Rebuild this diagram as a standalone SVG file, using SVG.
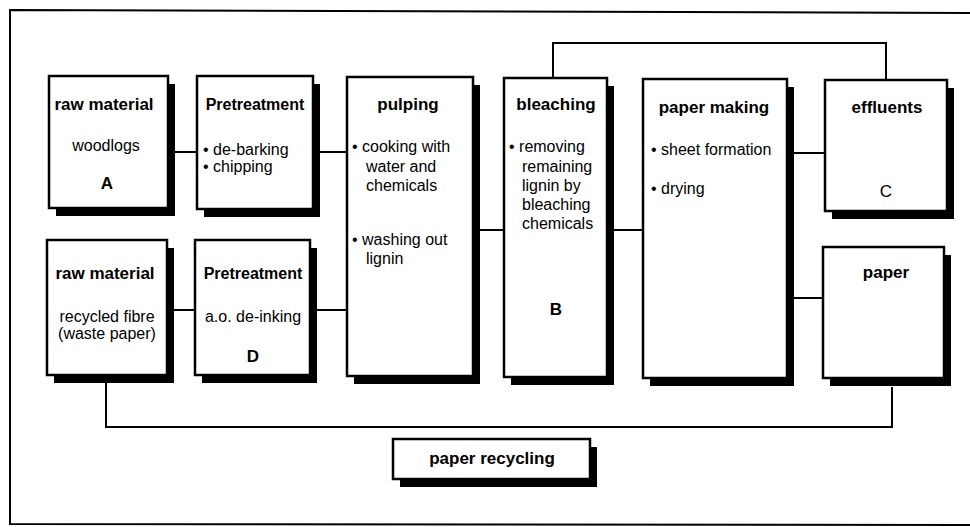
<svg xmlns="http://www.w3.org/2000/svg" width="970" height="527" viewBox="0 0 970 527">
<style>
.frame{fill:none;stroke:#000;stroke-width:2}
.box{fill:#fff;stroke:#000;stroke-width:2.5}
.sh{fill:#000}
.con{fill:none;stroke:#000;stroke-width:2}
text{font-family:"Liberation Sans",Arial,sans-serif;font-size:16px;fill:#000}
.t{font-weight:bold;text-anchor:middle;font-size:17px}
.tp{font-size:16px}
.c{text-anchor:middle}
</style>
<rect width="970" height="527" fill="#fff"/>
<path class="frame" d="M972,13 L10,10 L10,524 L972,525"/>
<g id="connectors">
<path class="con" d="M175,152 H197"/>
<path class="con" d="M320,152 H347"/>
<path class="con" d="M174,310 H195"/>
<path class="con" d="M317,310 H347"/>
<path class="con" d="M480,230 H504"/>
<path class="con" d="M614,230 H643"/>
<path class="con" d="M794,153 H825"/>
<path class="con" d="M794,298 H823"/>
<path class="con" d="M553,78 V43 H886 V80"/>
<path class="con" d="M892,387 V427 H106 V383"/>
</g>
<g id="raw-material-wood">
<rect class="sh" x="56" y="84" width="119" height="132"/>
<rect class="box" x="49" y="76" width="119" height="132"/>
<text class="t" x="104" y="110">raw material</text>
<text class="c" x="106" y="151">woodlogs</text>
<text class="t" x="107" y="189">A</text>
</g>
<g id="pretreatment-1">
<rect class="sh" x="204" y="84" width="116" height="133"/>
<rect class="box" x="197" y="76" width="116" height="133"/>
<text class="t tp" x="255" y="110">Pretreatment</text>
<text x="203" y="155">• de-barking</text>
<text x="203" y="172">• chipping</text>
</g>
<g id="pulping">
<rect class="sh" x="354" y="85" width="126" height="299"/>
<rect class="box" x="347" y="77" width="126" height="299"/>
<text class="t" x="408" y="110">pulping</text>
<text x="352" y="152">• cooking with</text>
<text x="366" y="172">water and</text>
<text x="366" y="191">chemicals</text>
<text x="352" y="245">• washing out</text>
<text x="366" y="264">lignin</text>
</g>
<g id="bleaching">
<rect class="sh" x="511" y="86" width="103" height="299"/>
<rect class="box" x="504" y="78" width="103" height="299"/>
<text class="t" x="556" y="110">bleaching</text>
<text x="509" y="152">• removing</text>
<text x="522" y="172">remaining</text>
<text x="522" y="191">lignin by</text>
<text x="522" y="210">bleaching</text>
<text x="522" y="229">chemicals</text>
<text class="t" x="556" y="315">B</text>
</g>
<g id="paper-making">
<rect class="sh" x="650" y="87" width="144" height="299"/>
<rect class="box" x="643" y="79" width="144" height="299"/>
<text class="t" x="714" y="113">paper making</text>
<text x="651" y="155">• sheet formation</text>
<text x="651" y="194">• drying</text>
</g>
<g id="effluents">
<rect class="sh" x="832" y="88" width="122" height="131"/>
<rect class="box" x="825" y="80" width="122" height="131"/>
<text class="t" x="887" y="113">effluents</text>
<text class="c" x="886" y="197" style="font-size:17px">C</text>
</g>
<g id="paper">
<rect class="sh" x="830" y="255" width="121" height="131"/>
<rect class="box" x="823" y="247" width="121" height="131"/>
<text class="t" x="886" y="278">paper</text>
</g>
<g id="raw-material-recycled">
<rect class="sh" x="54" y="248" width="120" height="135"/>
<rect class="box" x="47" y="240" width="120" height="135"/>
<text class="t" x="105" y="279">raw material</text>
<text class="c" x="107" y="322">recycled fibre</text>
<text class="c" x="107" y="339">(waste paper)</text>
</g>
<g id="pretreatment-2">
<rect class="sh" x="202" y="248" width="115" height="135"/>
<rect class="box" x="195" y="240" width="115" height="135"/>
<text class="t tp" x="253" y="279">Pretreatment</text>
<text class="c" x="253" y="322">a.o. de-inking</text>
<text class="t" x="253" y="362">D</text>
</g>
<g id="paper-recycling">
<rect class="sh" x="400" y="447" width="197" height="40"/>
<rect class="box" x="393" y="439" width="197" height="40"/>
<text class="t" x="492" y="464">paper recycling</text>
</g>
</svg>
